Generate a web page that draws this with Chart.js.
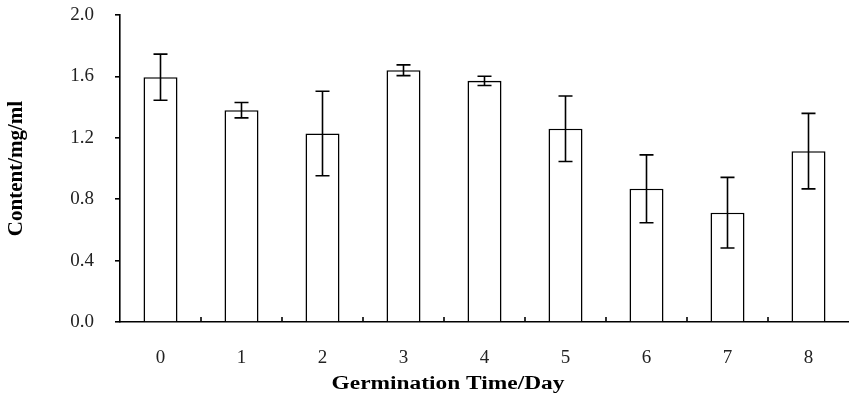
<!DOCTYPE html>
<html>
<head>
<meta charset="utf-8">
<script src="https://cdn.jsdelivr.net/npm/chart.js@4/dist/chart.umd.min.js"></script>
<style>
  html, body { margin: 0; padding: 0; background: #fff; }
  #wrap { width: 849px; height: 407px; }
</style>
</head>
<body>
<div id="wrap"><canvas id="contentChart"></canvas></div>
<script>
const days = ["0", "1", "2", "3", "4", "5", "6", "7", "8"];
const content = [1.595, 1.38, 1.228, 1.64, 1.571, 1.259, 0.868, 0.712, 1.113];
const errors = [0.15, 0.05, 0.275, 0.035, 0.03, 0.213, 0.221, 0.23, 0.246];
const yTicks = [0, 0.4, 0.8, 1.2, 1.6, 2.0];

const serif = "'Liberation Serif', 'Times New Roman', serif";

// error bars and the small inward ticks on the x axis
const extras = {
  id: "extras",
  afterDatasetsDraw(chart) {
    const ctx = chart.ctx;
    const x = chart.scales.x;
    const y = chart.scales.y;
    const meta = chart.getDatasetMeta(0);
    ctx.save();
    ctx.strokeStyle = "#000";
    ctx.lineWidth = 1.6;
    meta.data.forEach((bar, i) => {
      const top = y.getPixelForValue(content[i] + errors[i]);
      const bot = y.getPixelForValue(content[i] - errors[i]);
      ctx.beginPath();
      ctx.moveTo(bar.x, top);
      ctx.lineTo(bar.x, bot);
      ctx.moveTo(bar.x - 7, top);
      ctx.lineTo(bar.x + 7, top);
      ctx.moveTo(bar.x - 7, bot);
      ctx.lineTo(bar.x + 7, bot);
      ctx.stroke();
    });
    for (let i = 1; i < days.length; i++) {
      const px = x.getPixelForValue(i - 0.5);
      ctx.beginPath();
      ctx.moveTo(px, y.bottom);
      ctx.lineTo(px, y.bottom - 5);
      ctx.stroke();
    }
    // x axis title
    ctx.fillStyle = "#000";
    ctx.font = "bold 18px " + serif;
    ctx.textAlign = "center";
    ctx.textBaseline = "middle";
    ctx.translate(448, 384);
    ctx.scale(1.3, 1);
    ctx.fillText("Germination Time/Day", 0, 0);
    ctx.restore();
  },
};

const config = {
  type: "bar",
  data: {
    labels: days,
    datasets: [
      {
        data: content,
        backgroundColor: "#fff",
        borderColor: "#000",
        borderWidth: 1.6,
        barPercentage: 0.42,
        categoryPercentage: 1,
      },
    ],
  },
  options: {
    responsive: true,
    maintainAspectRatio: false,
    animation: false,
    layout: { padding: { top: 15, right: 0, bottom: 0, left: 0 } },
    plugins: {
      legend: { display: false },
      tooltip: { enabled: false },
    },
    scales: {
      x: {
        afterFit(scale) {
          scale.height = 85;
          scale.paddingTop = 0;
        },
        grid: { display: false },
        border: { display: true, color: "#000", width: 1.6 },
        ticks: {
          color: "#222",
          padding: 17,
          font: { family: serif, size: 19 },
        },
      },
      y: {
        min: 0,
        max: 2,
        afterFit(scale) {
          scale.width = 120;
          scale.paddingTop = 0;
          scale.paddingBottom = 0;
        },
        afterBuildTicks(scale) {
          scale.ticks = yTicks.map((v) => ({ value: v }));
        },
        grid: {
          drawOnChartArea: false,
          tickLength: 5,
          color: "#000",
          lineWidth: 1.6,
        },
        border: { display: true, color: "#000", width: 1.6 },
        ticks: {
          color: "#222",
          padding: 21,
          font: { family: serif, size: 19 },
          callback: (v) => Number(v).toFixed(1),
        },
        title: {
          display: true,
          text: "Content/mg/ml",
          color: "#000",
          padding: { top: 4, bottom: 0 },
          font: { family: serif, size: 21, weight: "bold" },
        },
      },
    },
  },
  plugins: [extras],
};

new Chart(document.getElementById("contentChart"), config);
</script>
</body>
</html>
